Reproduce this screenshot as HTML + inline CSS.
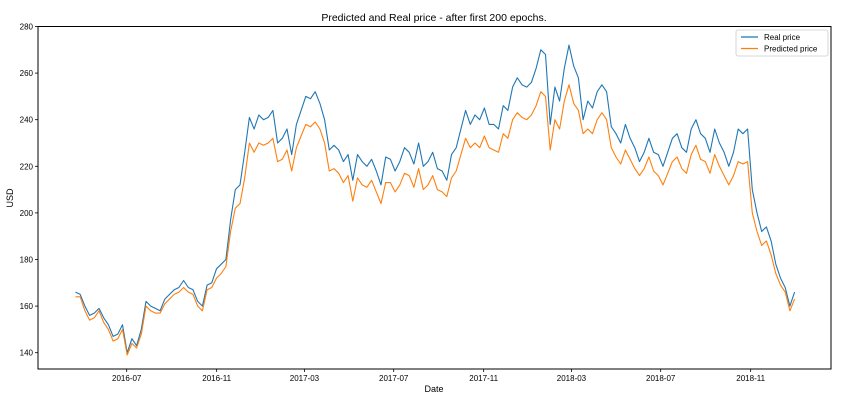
<!DOCTYPE html>
<html><head><meta charset="utf-8"><style>
body{margin:0;background:#fff;}
svg{display:block;font-family:"Liberation Sans","DejaVu Sans",sans-serif;}
</style></head><body>
<svg id="chart" width="863" height="413" viewBox="0 0 863 413">
<text x="434" y="21" font-size="10.5" text-anchor="middle" fill="#000">Predicted and Real price - after first 200 epochs.</text>
<text x="434" y="392" font-size="9" text-anchor="middle">Date</text>
<text x="13" y="198" font-size="9" text-anchor="middle" transform="rotate(-90 13 198)">USD</text>
<g id="grid"></g>
<g id="series"></g>
<rect x="38" y="26.5" width="793" height="342.5" fill="none" stroke="#000" stroke-width="1"/>
<g>
<rect x="736" y="30" width="92" height="26" rx="2" fill="#fff" stroke="#ccc" stroke-width="0.8"/>
<line x1="741" y1="37" x2="758" y2="37" stroke="#1f77b4" stroke-width="1.3"/>
<text x="764" y="40" font-size="8">Real price</text>
<line x1="741" y1="48.5" x2="758" y2="48.5" stroke="#ff7f0e" stroke-width="1.3"/>
<text x="764" y="51.5" font-size="8">Predicted price</text>
</g>
</svg>
<script>
const startDate = "2016-04-22";
const endDate = "2018-12-31";
const realPrice = [166,165,160,156,157,159,155,152,147,148,152,140,146,143,150,162,160,159,158,163,165,167,168,171,168,167,162,160,169,170,176,178,180,197,210,212,226,241,236,242,240,241,244,230,232,236,225,238,244,250,249,252,247,240,227,229,227,222,225,214,225,222,220,223,218,212,224,223,218,222,228,226,221,230,220,222,226,219,218,214,225,228,236,244,238,242,240,245,238,238,236,246,244,254,258,255,254,256,262,270,268,238,254,248,262,272,263,258,240,248,245,252,255,252,237,234,230,238,232,228,222,226,232,226,225,220,226,232,234,228,226,236,240,234,232,226,236,230,226,220,226,236,234,236,210,200,192,194,188,178,172,168,160,166];
const predictedPrice = [164,164,158,154,155,158,153,150,145,146,150,139,144,142,148,160,158,157,157,161,163,165,166,168,166,165,160,158,167,168,172,174,177,192,202,204,215,230,226,230,229,230,232,222,223,227,218,228,233,238,237,239,236,230,218,219,217,213,216,205,215,212,211,214,209,204,213,213,209,212,217,216,211,219,210,212,216,210,209,207,215,218,225,232,228,230,228,233,228,227,226,234,232,240,243,241,240,242,246,252,250,227,240,236,248,255,247,244,234,236,234,240,243,240,228,224,221,227,223,219,216,219,224,218,216,212,217,222,224,219,217,225,229,223,222,217,225,220,216,212,216,222,221,222,200,192,186,188,182,174,169,166,158,163];
const yTicks = [140,160,180,200,220,240,260,280];
const xTickLabels = ["2016-07","2016-11","2017-03","2017-07","2017-11","2018-03","2018-07","2018-11"];

const NS = "http://www.w3.org/2000/svg";
const DAY = 86400000;
const refT = Date.parse("2016-07-01");
function xScale(t){ return 126.7 + (t - refT)/DAY*0.7315; }
function yScale(v){ return 352.7 - (v - 140)*2.33; }
const grid = document.getElementById("grid");
const series = document.getElementById("series");

yTicks.forEach(v=>{
  const y = yScale(v);
  const l = document.createElementNS(NS,"line");
  l.setAttribute("x1",35); l.setAttribute("x2",38); l.setAttribute("y1",y); l.setAttribute("y2",y);
  l.setAttribute("stroke","#000"); l.setAttribute("stroke-width","0.8");
  
  
  grid.appendChild(l);
  const t = document.createElementNS(NS,"text");
  t.setAttribute("x",33); t.setAttribute("y",y+3); t.setAttribute("font-size","8"); t.setAttribute("text-anchor","end");
  t.textContent = v;
  
  
  grid.appendChild(t);
});
xTickLabels.forEach(s=>{
  const x = xScale(Date.parse(s+"-01"));
  const l = document.createElementNS(NS,"line");
  l.setAttribute("x1",x); l.setAttribute("x2",x); l.setAttribute("y1",369); l.setAttribute("y2",372);
  l.setAttribute("stroke","#000"); l.setAttribute("stroke-width","0.8");
  
  
  grid.appendChild(l);
  const t = document.createElementNS(NS,"text");
  t.setAttribute("x",x); t.setAttribute("y",381); t.setAttribute("font-size","8"); t.setAttribute("text-anchor","middle");
  t.textContent = s;
  
  
  grid.appendChild(t);
});

function drawLine(vals,color,name){
  const t0 = Date.parse(startDate), t1 = Date.parse(endDate);
  const n = vals.length;
  const pts = vals.map((v,i)=>{
    const t = t0 + (t1-t0)*i/(n-1);
    return xScale(t).toFixed(1)+","+yScale(v).toFixed(1);
  }).join(" ");
  const p = document.createElementNS(NS,"polyline");
  p.setAttribute("points",pts); p.setAttribute("fill","none");
  p.setAttribute("stroke",color); p.setAttribute("stroke-width","1.1"); p.setAttribute("stroke-linejoin","round");
  
  
  series.appendChild(p);
}
drawLine(realPrice,"#1f77b4","real-price-line");
drawLine(predictedPrice,"#ff7f0e","predicted-price-line");
</script>
</body></html>
